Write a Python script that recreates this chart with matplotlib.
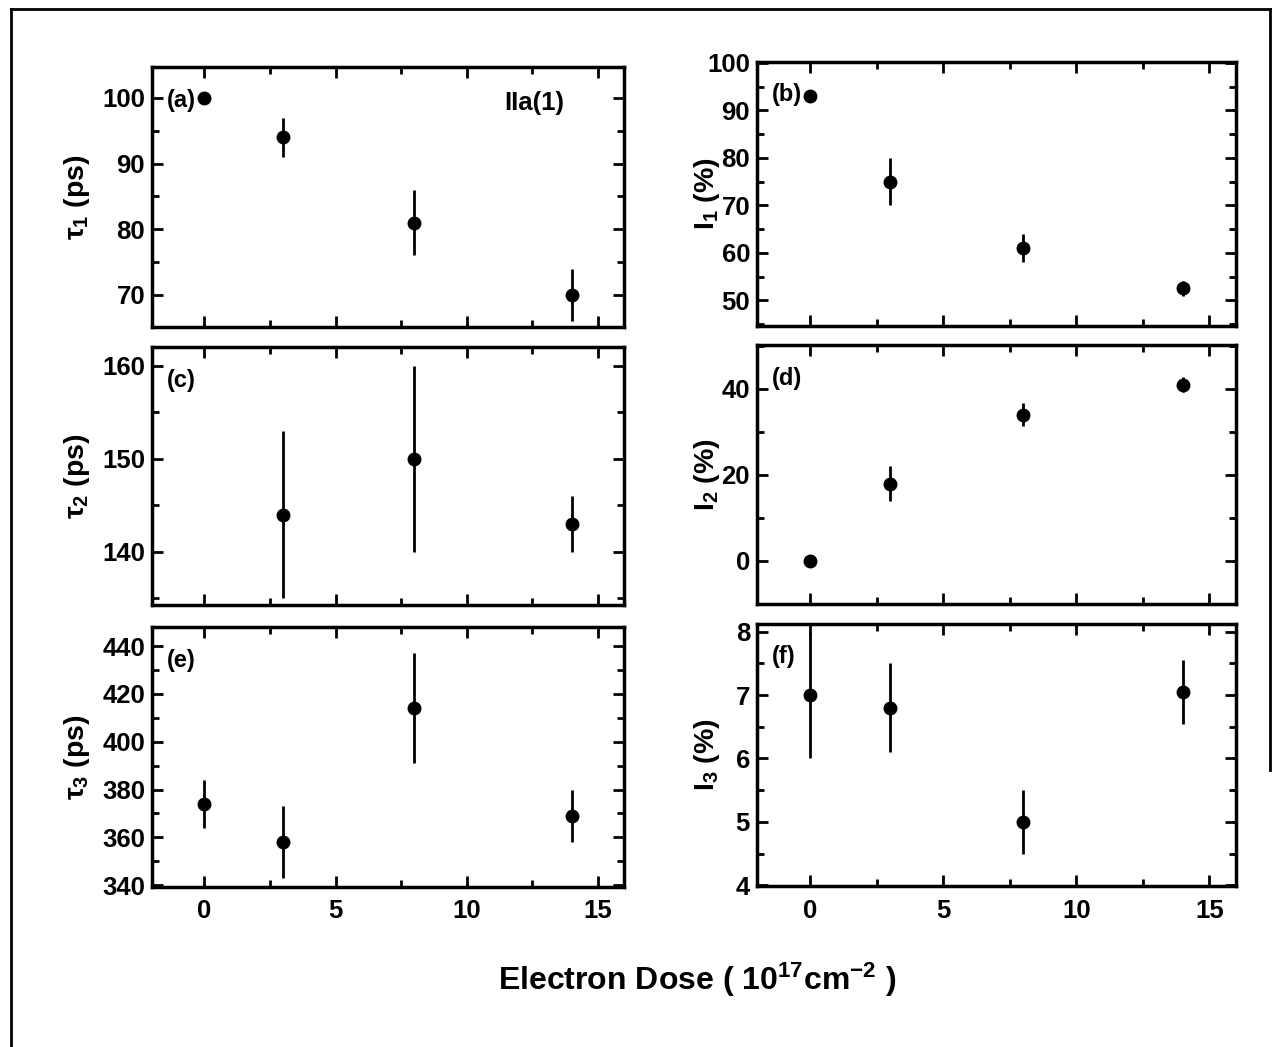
import matplotlib
matplotlib.use("Agg")
import matplotlib.pyplot as plt
from matplotlib.ticker import MultipleLocator
from matplotlib.lines import Line2D

plt.rcParams['font.family'] = ['Liberation Sans', 'DejaVu Sans']
plt.rcParams['font.weight'] = 'bold'
plt.rcParams['mathtext.fontset'] = 'custom'
plt.rcParams['mathtext.bf'] = 'Liberation Sans:bold'
plt.rcParams['mathtext.rm'] = 'Liberation Sans:bold'
plt.rcParams['mathtext.default'] = 'bf'

# ---- data ----
dose = [0, 3, 8, 14]

tau1 = [100, 94, 81, 70]
tau1_err = [0, 3, 5, 4]
I1 = [93, 75, 61, 52.5]
I1_err = [0, 5, 3, 1.5]
tau2_dose = [3, 8, 14]
tau2 = [144, 150, 143]
tau2_err = [9, 10, 3]
I2 = [0, 18, 34, 41]
I2_err = [0, 4, 2.7, 1.7]
tau3 = [374, 358, 414, 369]
tau3_err = [10, 15, 23, 11]
I3 = [7.0, 6.8, 5.0, 7.05]
I3_err = [1.0, 0.7, 0.5, 0.5]

panel_labels = ['(a)', '(b)', '(c)', '(d)', '(e)', '(f)']
ylabels = ['τ$_1$ (ps)', 'I$_1$ (%)', 'τ$_2$ (ps)', 'I$_2$ (%)', 'τ$_3$ (ps)', 'I$_3$ (%)']
xlabel = 'Electron Dose ( 10$^{17}$cm$^{-2}$ )'
sample_label = 'IIa(1)'

W, H = 1273, 1047
fig = plt.figure(figsize=(W / 100, H / 100), dpi=100)


def rect(l, r, t, b):
    return [l / W, 1 - b / H, (r - l) / W, (b - t) / H]


rects = [rect(152, 624, 67, 327), rect(757, 1236, 62, 326),
         rect(152, 624, 347, 605), rect(757, 1236, 345, 604),
         rect(152, 624, 627, 887), rect(757, 1236, 624, 886)]

panels = [
    (dose, tau1, tau1_err, (65.1, 104.7), 10, 5),
    (dose, I1, I1_err, (44.6, 100.2), 10, 5),
    (tau2_dose, tau2, tau2_err, (134.3, 162), 10, 5),
    (dose, I2, I2_err, (-10, 50.2), 20, 10),
    (dose, tau3, tau3_err, (339.2, 448), 20, 10),
    (dose, I3, I3_err, (3.99, 8.12), 1, 0.5),
]

axes = []
for i, (x, y, e, ylim, maj, mnr) in enumerate(panels):
    ax = fig.add_axes(rects[i])
    axes.append(ax)
    ax.errorbar(x, y, yerr=e, fmt='o', color='black', ms=9, elinewidth=2,
                capsize=0, clip_on=False, zorder=3)
    ax.set_xlim(-2, 16)
    ax.set_ylim(*ylim)
    ax.xaxis.set_major_locator(MultipleLocator(5))
    ax.xaxis.set_minor_locator(MultipleLocator(2.5))
    ax.yaxis.set_major_locator(MultipleLocator(maj))
    ax.yaxis.set_minor_locator(MultipleLocator(mnr))
    ax.tick_params(which='both', direction='in', top=True, right=True,
                   width=2, labelsize=18.5)
    ax.tick_params(axis='x', pad=9)
    ax.tick_params(axis='y', pad=5)
    ax.tick_params(which='major', length=8)
    ax.tick_params(which='minor', length=5)
    for s in ax.spines.values():
        s.set_linewidth(2.5)
    for lab in ax.get_yticklabels() + ax.get_xticklabels():
        lab.set_fontweight('bold')
    if i < 4:
        ax.tick_params(labelbottom=False)
    ax.text(15 / (rects[i][2] * W), 1 - 33 / (rects[i][3] * H), panel_labels[i],
            transform=ax.transAxes, ha='left', va='center', fontsize=17,
            fontweight='bold')
    ax.set_ylabel(ylabels[i], fontsize=20.5, fontweight='bold')
    if i % 2 == 0:
        ax.yaxis.set_label_coords(-0.127, 0.5)
    else:
        ax.yaxis.set_label_coords(-0.073, 0.5)

axes[0].text(0.81, 0.86, sample_label, transform=axes[0].transAxes,
             ha='center', va='center', fontsize=18.5, fontweight='bold')

fig.text(697 / W, 1 - 980 / H, xlabel, ha='center', va='center', fontsize=23,
         fontweight='bold')

# outer frame
fig.add_artist(Line2D([11 / W, 11 / W], [0, 1 - 9 / H], color='black', lw=2,
                      transform=fig.transFigure))
fig.add_artist(Line2D([11 / W, 1270 / W], [1 - 9 / H, 1 - 9 / H], color='black',
                      lw=2, transform=fig.transFigure))
fig.add_artist(Line2D([1270 / W, 1270 / W], [1 - 9 / H, 1 - 770 / H],
                      color='black', lw=2, transform=fig.transFigure))

fig.savefig('out.png', dpi=100)
